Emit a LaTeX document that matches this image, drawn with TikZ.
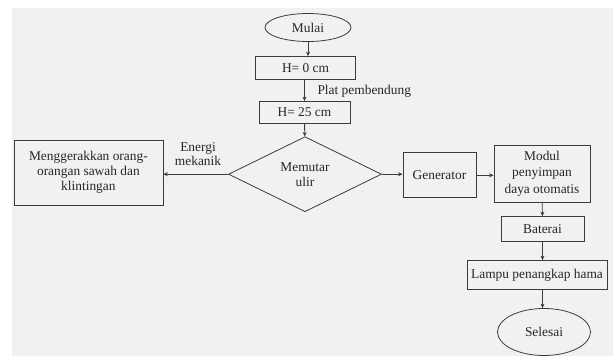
\documentclass[tikz,border=0pt]{standalone}
\usepackage{fontspec}
\setmainfont{Liberation Serif}
\usetikzlibrary{shapes.geometric,arrows.meta}
\definecolor{latar}{HTML}{F0F1F3}
\definecolor{garis}{HTML}{3C3C3C}
\definecolor{huruf}{HTML}{262626}
\begin{document}
\begin{tikzpicture}[x=1pt,y=-1pt,
    every node/.style={font=\fontsize{13.4}{15}\selectfont,text=huruf},
    kotak/.style={draw=garis,line width=0.8pt,rectangle,inner sep=0pt,align=center},
    oval/.style={draw=garis,line width=0.8pt,ellipse,inner sep=0pt},
    putusan/.style={draw=garis,line width=0.8pt,diamond,inner sep=0pt,align=center},
    panah/.style={draw=garis,line width=0.8pt,-{Stealth[length=4.5pt,width=4pt]}}]
\useasboundingbox (0,0) rectangle (613,356);
\fill[latar] (12,8) rectangle (613,356);
\node[oval,minimum width=86,minimum height=28] (mulai) at (308,27.5) {Mulai};
\node[kotak,minimum width=100,minimum height=23] (h0) at (305.5,68) {H= 0 cm};
\node[kotak,minimum width=91,minimum height=22] (h25) at (304.5,112.5) {H= 25 cm};
\node[putusan,minimum width=153,minimum height=75] (putar) at (305,174.2) {Memutar\\ulir};
\node[kotak,minimum width=149,minimum height=65] (gerak) at (88.4,172.5)
    {Menggerakkan orang-\\orangan sawah dan\\klintingan};
\node[kotak,minimum width=73,minimum height=45] (gen) at (439.5,175.3) {Generator};
\node[kotak,minimum width=96,minimum height=57,font=\fontsize{13.4}{16.5}\selectfont] (modul) at (542,173.4)
    {Modul\\penyimpan\\daya otomatis};
\node[kotak,minimum width=83,minimum height=25] (baterai) at (542.5,229.2) {Baterai};
\node[kotak,minimum width=140,minimum height=29] (lampu) at (537,275) {Lampu penangkap hama};
\node[oval,minimum width=93,minimum height=47] (selesai) at (544,332) {Selesai};
\node[align=center,font=\fontsize{13.4}{14.5}\selectfont] (energi) at (198,154) {Energi\\mekanik};
\node[anchor=west] (plat) at (314,91) {Plat pembendung};
\draw[panah] (mulai) -- (mulai |- h0.north);
\draw[panah] (h0.south -| h25) -- (h25);
\draw[panah] (h25) -- (putar);
\draw[panah] (putar.west) -- (putar.west -| gerak.east);
\draw[panah] (putar.east) -- (putar.east -| gen.west);
\draw[panah] (gen) -- (gen -| modul.west);
\draw[panah] (modul) -- (baterai);
\draw[panah] (baterai) -- (baterai |- lampu.north);
\draw[panah] (lampu.south -| baterai) -- (baterai |- selesai.north);
\end{tikzpicture}
\end{document}
